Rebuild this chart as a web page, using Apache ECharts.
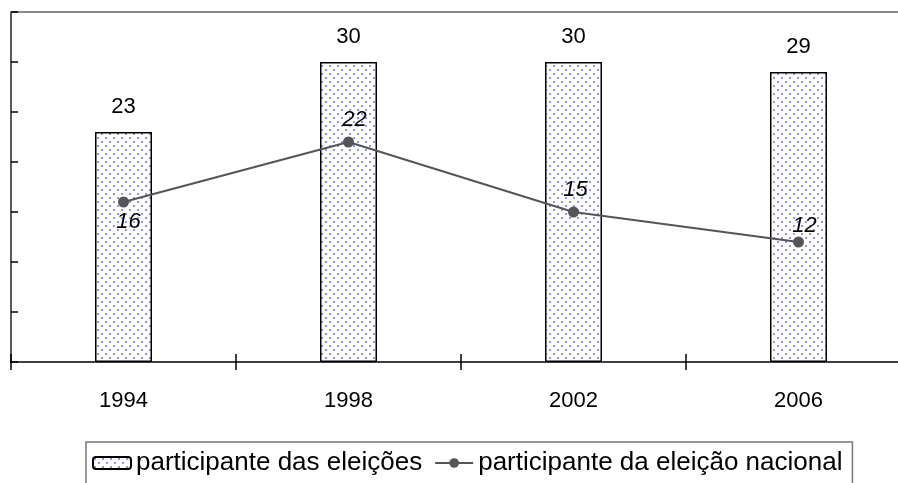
<!DOCTYPE html>
<html><head><meta charset="utf-8">
<script src="https://cdn.jsdelivr.net/npm/echarts@6/dist/echarts.min.js"></script>
<style>html,body{margin:0;padding:0;background:#fff;overflow:hidden}#c{width:911px;height:483px}</style>
</head><body><div id="c"></div>
<script>
const categories = ['1994', '1998', '2002', '2006'];
const barValues = [23, 30, 30, 29];
const lineValues = [16, 22, 15, 12];
const barName = 'participante das eleições';
const lineName = 'participante da eleição nacional';

const tile = document.createElement('canvas');
tile.width = 8; tile.height = 8;
const g = tile.getContext('2d');
g.fillStyle = '#ffffff'; g.fillRect(0, 0, 8, 8);
g.fillStyle = '#9494ff';
g.fillRect(1, 1, 2, 2); g.fillRect(5, 5, 2, 2);

const F = 'Liberation Sans, Arial, sans-serif';
const lineLabelCfg = [
  {position: 'bottom', distance: 3, offset: [5, 0]},
  {position: 'top', distance: 6, offset: [6, 0]},
  {position: 'top', distance: 6, offset: [2, 0]},
  {position: 'top', distance: 0, offset: [6, 0]}
];

const chart = echarts.init(document.getElementById('c'), null, {renderer: 'canvas'});
chart.setOption({
  animation: false,
  backgroundColor: '#fff',
  grid: {left: 11, top: 12, right: 0, bottom: 121, containLabel: false},
  legend: {
    left: 86, top: 442,
    padding: [8, 10, 10, 6],
    borderColor: '#777', borderWidth: 1.5, borderRadius: 0,
    itemWidth: 38, itemHeight: 12, itemGap: 12,
    textStyle: {fontFamily: F, fontSize: 26, color: '#000'},
    data: [barName, lineName]
  },
  xAxis: [
    {type: 'category', data: categories, position: 'bottom', boundaryGap: true,
     axisLine: {show: true, lineStyle: {color: '#000', width: 1.5}},
     axisTick: {show: true, inside: false, length: 8, lineStyle: {color: '#000', width: 1.5}},
     axisLabel: {fontFamily: F, fontSize: 22, color: '#000', margin: 28},
     splitLine: {show: false}},
    {type: 'category', data: categories, position: 'bottom', boundaryGap: true,
     axisLine: {show: false},
     axisTick: {show: true, inside: true, length: 8, lineStyle: {color: '#000', width: 1.5}},
     axisLabel: {show: false}, splitLine: {show: false}},
    {type: 'category', data: categories, position: 'top',
     axisLine: {show: true, lineStyle: {color: '#888', width: 2}},
     axisTick: {show: false}, axisLabel: {show: false}, splitLine: {show: false}}
  ],
  yAxis: {
    type: 'value', min: 0, max: 35, interval: 5,
    axisLine: {show: true, lineStyle: {color: '#222', width: 1.5}},
    axisTick: {show: true, inside: true, length: 7, lineStyle: {color: '#000', width: 1.5}},
    axisLabel: {show: false}, splitLine: {show: false}
  },
  series: [
    {name: barName, type: 'bar', data: barValues, barWidth: 57, xAxisIndex: 0,
     itemStyle: {color: {image: tile, repeat: 'repeat'}, borderColor: '#000', borderWidth: 1.5},
     label: {show: true, position: 'top', distance: 14, fontFamily: F, fontSize: 22, color: '#000'}},
    {name: lineName, type: 'line', xAxisIndex: 0,
     data: lineValues.map((v, i) => ({value: v, label: lineLabelCfg[i]})),
     symbol: 'circle', symbolSize: 11,
     lineStyle: {color: '#555', width: 2}, itemStyle: {color: '#555'},
     label: {show: true, fontFamily: F, fontSize: 22, fontStyle: 'italic', color: '#000'}}
  ]
});
</script></body></html>
